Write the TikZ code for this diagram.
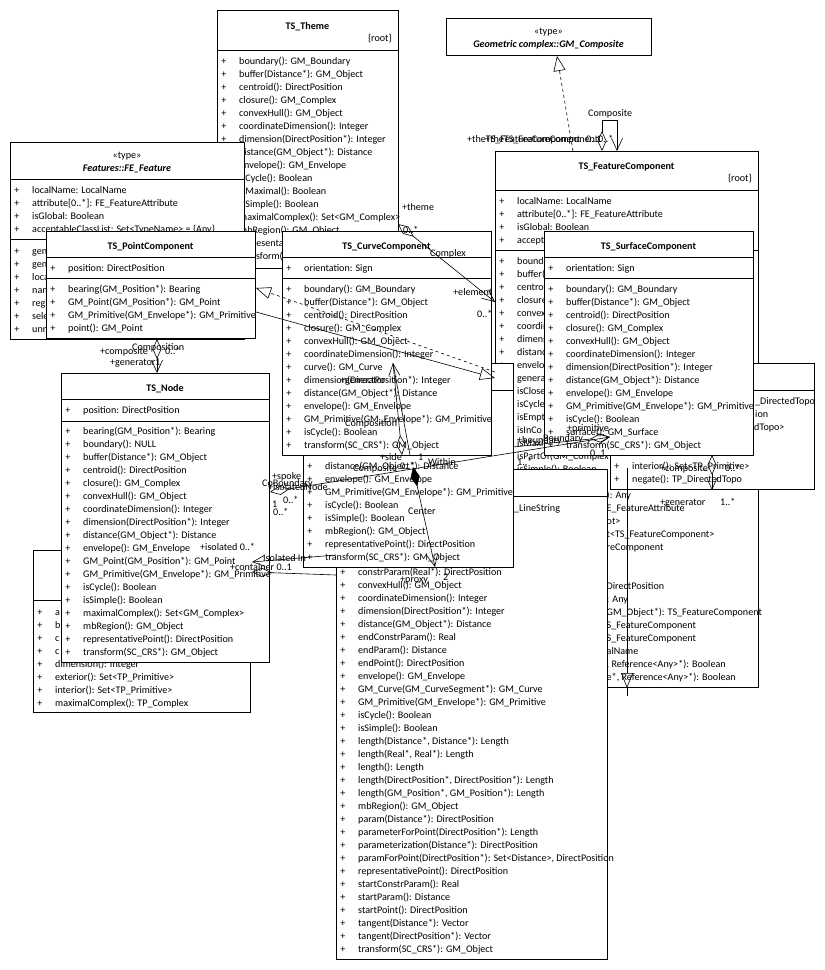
\documentclass[tikz,border=0pt]{standalone}
\usepackage{fontspec}
\setmainfont{Carlito}
\usetikzlibrary{arrows.meta}
\newcommand\rowfont{\fontsize{10.1}{12}\selectfont}
\tikzset{
  umlbox/.style={draw, fill=white, line width=0.75pt, inner sep=0pt, outer sep=0pt, anchor=north west},
  rowtxt/.style={inner sep=0pt, anchor=base west, font=\rowfont},
  plusmark/.style={inner sep=0pt, anchor=base, font=\rowfont},
  ttl/.style={inner sep=0pt, anchor=base, font=\rowfont\bfseries},
  lbl/.style={inner sep=0pt, anchor=base west, font=\rowfont},
  sep/.style={line width=0.75pt},
  conn/.style={line width=0.6pt},
  gentip/.tip={Triangle[open, length=15pt, width=12pt]},
  aggtip/.tip={Diamond[open, length=20pt, width=9pt]},
  comptip/.tip={Diamond[length=20pt, width=9pt]},
  navtip/.tip={Straight Barb[length=12pt, width=11pt]},
}
% class box: name, left, top, right, bottom
\newcommand\classbox[5]{%
  \node[umlbox, minimum width=#4-#2, minimum height=#5-#3] (#1) at (#2,#3) {};}
% compartment separator: left, right, y
\newcommand\hsep[3]{\draw[sep] (#1,#3) -- (#2,#3);}
% list of members: prefix, box left, centre of first row, rows
\newcommand\classrows[4]{%
  \foreach \rowtext [count=\k from 0] in {#4}{%
    \node[plusmark] (#1p\k) at (#2+7,#3+13*\k+3.3) {+};
    \node[rowtxt] (#1r\k) at (#2+22,#3+13*\k+3.3) {\rowtext};
  }}
\begin{document}
\begin{tikzpicture}[x=1pt,y=-1pt]
\useasboundingbox[fill=white] (0,0) rectangle (825,970);

% ---------- GM_Composite ----------
\classbox{gmcomp}{446}{18}{651}{55}
\node[ttl, font=\rowfont] (gmcomp-st) at (548.5,34) {«type»};
\node[ttl, font=\rowfont\bfseries\itshape] (gmcomp-nm) at (548.5,47.3) {Geometric complex::GM\_Composite};

% ---------- TS_Theme ----------
\classbox{theme}{217}{10}{398}{268}
\node[ttl] (theme-nm) at (307.5,29.5) {TS\_Theme};
\node[inner sep=0pt, anchor=base east, font=\rowfont] (theme-root) at (392,41.3) {\{root\}};
\hsep{217}{398}{50}
\classrows{theme}{217}{61}{boundary(): GM\_Boundary, buffer(Distance*): GM\_Object, centroid(): DirectPosition, closure(): GM\_Complex, convexHull(): GM\_Object, coordinateDimension(): Integer, dimension(DirectPosition*): Integer, distance(GM\_Object*): Distance, envelope(): GM\_Envelope, isCycle(): Boolean, isMaximal(): Boolean, isSimple(): Boolean, maximalComplex(): Set<GM\_Complex>, mbRegion(): GM\_Object, representativePoint(): DirectPosition, transform(SC\_CRS*): GM\_Object}

% ---------- FE_Feature ----------
\classbox{fefeat}{10}{142}{244}{339}
\node[ttl, font=\rowfont] (fefeat-st) at (127,158.5) {«type»};
\node[ttl, font=\rowfont\bfseries\itshape] (fefeat-nm) at (127,171.5) {Features::FE\_Feature};
\hsep{10}{244}{179}
\classrows{fefa}{10}{190}{localName: LocalName, attribute[0..*]: FE\_FeatureAttribute, isGlobal: Boolean, acceptableClassList: Set<TypeName> = \{Any\}}
\hsep{10}{244}{239.3}
\classrows{fefo}{10}{250.7}{gen, gen, loca, nam, regi, sele, unr}

% ---------- TS_PointComponent ----------
\classbox{pointc}{46}{231}{255}{338}
\node[ttl] (pointc-nm) at (150.5,249.3) {TS\_PointComponent};
\hsep{46}{255}{257}
\classrows{pointa}{46}{268.3}{position: DirectPosition}
\hsep{46}{255}{278.3}
\classrows{pointo}{46}{289}{bearing(GM\_Position*): Bearing, GM\_Point(GM\_Position*): GM\_Point, GM\_Primitive(GM\_Envelope*): GM\_Primitive, point(): GM\_Point}

% ---------- TS_FeatureComponent ----------
\classbox{featc}{495}{151}{758}{687}
\node[ttl] (featc-nm) at (626.5,169.3) {TS\_FeatureComponent};
\node[inner sep=0pt, anchor=base east, font=\rowfont] (featc-root) at (752,181.3) {\{root\}};
\hsep{495}{758}{190}
\classrows{feata}{495}{201}{localName: LocalName, attribute[0..*]: FE\_FeatureAttribute, isGlobal: Boolean, acceptableClassList: Set<TypeName> = \{Any\}}
\hsep{495}{758}{250}
\classrows{feato}{495}{261}{bounda, buffer(, centroi, closure, convex, coordin, dimens, distanc, envelo, genera, isClose, isCycle, isEmpt, isInCo, isMaxi, isPartOf(GM\_Complex, isSimple(): Boolean}
\foreach \yy/\frag [count=\k] in {495/{): Any}, 508/E\_FeatureAttribute, 521/ot>, 534/t<TS\_FeatureComponent>, 547/reComponent, 586/DirectPosition, 599/{: Any}, 612/{GM\_Object*): TS\_FeatureComponent}, 625/S\_FeatureComponent, 638/S\_FeatureComponent, 651/alName, 664/{, Reference<Any>*): Boolean}, 677/{e*, Reference<Any>*): Boolean}}{%
  \node[rowtxt] (featf\k) at (606.5,\yy+3.3) {\frag};
}

% ---------- directed topology box (right) ----------
\classbox{dirtopo}{610}{363}{814}{489}
\hsep{610}{814}{390}
\node[rowtxt] (dirtopo-f1) at (755,404.3) {\_DirectedTopo};
\node[rowtxt] (dirtopo-f2) at (755,417.3) {ion};
\node[rowtxt] (dirtopo-f3) at (754,430.3) {dTopo>};
\classrows{dirtopo}{610}{466}{interior(): Set<TP\_Primitive>, negate(): TP\_DirectedTopo}

% ---------- TS_SurfaceComponent ----------
\classbox{surfc}{544}{231}{753}{455}
\node[ttl] (surfc-nm) at (648.5,249.3) {TS\_SurfaceComponent};
\hsep{544}{753}{257}
\classrows{surfa}{544}{268}{orientation: Sign}
\hsep{544}{753}{278}
\classrows{surfo}{544}{289}{boundary(): GM\_Boundary, buffer(Distance*): GM\_Object, centroid(): DirectPosition, closure(): GM\_Complex, convexHull(): GM\_Object, coordinateDimension(): Integer, dimension(DirectPosition*): Integer, distance(GM\_Object*): Distance, envelope(): GM\_Envelope, GM\_Primitive(GM\_Envelope*): GM\_Primitive, isCycle(): Boolean, surface(): GM\_Surface, transform(SC\_CRS*): GM\_Object}

% ---------- line string box ----------
\classbox{lstr}{336}{469}{607}{959}
\hsep{336}{607}{496}
\node[rowtxt] (lstr-f1) at (514,511.3) {\_LineString};
\classrows{lstr}{336}{572}{constrParam(Real*): DirectPosition, convexHull(): GM\_Object, coordinateDimension(): Integer, dimension(DirectPosition*): Integer, distance(GM\_Object*): Distance, endConstrParam(): Real, endParam(): Distance, endPoint(): DirectPosition, envelope(): GM\_Envelope, GM\_Curve(GM\_CurveSegment*): GM\_Curve, GM\_Primitive(GM\_Envelope*): GM\_Primitive, isCycle(): Boolean, isSimple(): Boolean, {length(Distance*, Distance*): Length}, {length(Real*, Real*): Length}, length(): Length, {length(DirectPosition*, DirectPosition*): Length}, {length(GM\_Position*, GM\_Position*): Length}, mbRegion(): GM\_Object, param(Distance*): DirectPosition, parameterForPoint(DirectPosition*): Length, parameterization(Distance*): DirectPosition, {paramForPoint(DirectPosition*): Set<Distance>, DirectPosition}, representativePoint(): DirectPosition, startConstrParam(): Real, startParam(): Distance, startPoint(): DirectPosition, tangent(Distance*): Vector, tangent(DirectPosition*): Vector, transform(SC\_CRS*): GM\_Object}

% ---------- middle box ----------
\classbox{edgec}{303}{363}{513}{567}
\hsep{303}{513}{390}
\classrows{edgec}{303}{466}{distance(GM\_Object*): Distance, envelope(): GM\_Envelope, GM\_Primitive(GM\_Envelope*): GM\_Primitive, isCycle(): Boolean, isSimple(): Boolean, mbRegion(): GM\_Object, representativePoint(): DirectPosition, transform(SC\_CRS*): GM\_Object}

% ---------- TS_CurveComponent ----------
\classbox{curvec}{282}{231}{491}{455}
\node[ttl] (curvec-nm) at (386.5,249.3) {TS\_CurveComponent};
\hsep{282}{491}{257}
\classrows{curva}{282}{268}{orientation: Sign}
\hsep{282}{491}{278}
\classrows{curvo}{282}{289}{boundary(): GM\_Boundary, buffer(Distance*): GM\_Object, centroid(): DirectPosition, closure(): GM\_Complex, convexHull(): GM\_Object, coordinateDimension(): Integer, curve(): GM\_Curve, dimension(DirectPosition*): Integer, distance(GM\_Object*): Distance, envelope(): GM\_Envelope, GM\_Primitive(GM\_Envelope*): GM\_Primitive, isCycle(): Boolean, transform(SC\_CRS*): GM\_Object}

% ---------- bottom-left box ----------
\classbox{facec}{33}{550}{250}{712}
\hsep{33}{250}{600}
\classrows{facec}{33}{611.7}{a, b, c, c, dimension(): Integer, exterior(): Set<TP\_Primitive>, interior(): Set<TP\_Primitive>, maximalComplex(): TP\_Complex}

% ---------- TS_Node ----------
\classbox{node}{61}{373}{269}{662}
\node[ttl] (node-nm) at (165,391.3) {TS\_Node};
\hsep{61}{269}{399}
\classrows{nodea}{61}{410}{position: DirectPosition}
\hsep{61}{269}{421}
\classrows{nodeo}{61}{431}{bearing(GM\_Position*): Bearing, boundary(): NULL, buffer(Distance*): GM\_Object, centroid(): DirectPosition, closure(): GM\_Complex, convexHull(): GM\_Object, coordinateDimension(): Integer, dimension(DirectPosition*): Integer, distance(GM\_Object*): Distance, envelope(): GM\_Envelope, GM\_Point(GM\_Position*): GM\_Point, GM\_Primitive(GM\_Envelope*): GM\_Primitive, isCycle(): Boolean, isSimple(): Boolean, maximalComplex(): Set<GM\_Complex>, mbRegion(): GM\_Object, representativePoint(): DirectPosition, transform(SC\_CRS*): GM\_Object}

% ---------- connectors ----------
% realization of GM_Composite
\coordinate (r1a) at (573,151); \coordinate (r1b) at (557,56);
\draw[conn, dashed, -gentip] (r1a) -- (r1b);
% self association on the feature component
\coordinate (s1) at (602,151); \coordinate (s2) at (602,120); \coordinate (s3) at (617,120); \coordinate (s4) at (617,151);
\draw[conn, aggtip-navtip] (s1) -- (s2) -- (s3) -- (s4);
% theme / feature component
\coordinate (cx1) at (398,224); \coordinate (cx2) at (495,302);
\draw[conn, aggtip-navtip] (cx1) -- (cx2);
% point component generalization and realization
\coordinate (g1a) at (256,312); \coordinate (g1b) at (495,378);
\draw[conn, -gentip] (g1a) -- (g1b);
\coordinate (g2a) at (495,372); \coordinate (g2b) at (256,288);
\draw[conn, dashed, -gentip] (g2a) -- (g2b);
% point component / node
\coordinate (pn1) at (157,339); \coordinate (pn2) at (157,373);
\draw[conn, aggtip-navtip] (pn1) -- (pn2);
% curve component / edge
\coordinate (ce1) at (402,455); \coordinate (ce2) at (393,363);
\draw[conn, aggtip-navtip] (ce1) -- (ce2);
\coordinate (ce3) at (410,455);
\draw[conn] (ce3) -- (ce2);
% centre composition
\coordinate (ct1) at (413,467); \coordinate (ct2) at (435,567);
\draw[conn, comptip-navtip] (ct1) -- (ct2);
% node / boundary lines
\coordinate (bd1) at (270,492); \coordinate (bd2) at (610,437);
\draw[conn, aggtip-navtip] (bd1) -- (bd2);
\coordinate (bd3) at (513,447);
\draw[conn, -aggtip] (bd3) -- (bd2);
% isolated in
\coordinate (is1) at (252,562); \coordinate (is2) at (336,555);
\draw[conn, navtip-] (is1) -- (is2);
\coordinate (is3) at (252,572); \coordinate (is4) at (336,575);
\draw[conn, aggtip-] (is3) -- (is4);
% surface component / face
\coordinate (sf1) at (712,455); \coordinate (sf2) at (712,490);
\draw[conn, aggtip-navtip] (sf1) -- (sf2);
% vertical generalization through the feature component
\coordinate (vg1) at (627,468); \coordinate (vg2) at (627,688); \coordinate (vg3) at (627,696);
\draw[conn, -gentip] (vg1) -- (vg2);
\draw[conn] (vg2) -- (vg3);

% ---------- connector labels ----------
\node[lbl] (l-theme) at (402,210) {+theme};
\node[lbl] (l-thm) at (403,233) {0..*};
\node[lbl] (l-complex) at (430,256) {Complex};
\node[lbl] (l-element) at (453,295) {+element};
\node[lbl] (l-elm) at (477,317) {0..*};
\node[lbl] (l-composite) at (588,116) {Composite};
\node[lbl] (l-thefc1) at (467,142) {+theTS\_FeatureComponent};
\node[lbl] (l-thefc2) at (485,142) {+theTS\_FeatureComponent};
\node[lbl] (l-thefm1) at (586,142) {0..1};
\node[lbl] (l-thefm2) at (598,142) {0..*};
\node[lbl] (l-pcomp) at (100,354) {+composite};
\node[lbl] (l-pcompn) at (132,350) {Composition};
\node[lbl] (l-pcm) at (165,354) {0..*};
\node[lbl] (l-pgen) at (110,365) {+generator};
\node[lbl] (l-pgm) at (155,365) {1};
\node[lbl] (l-cgen) at (340,383) {+generator};
\node[lbl] (l-ccompn) at (345,426) {Composition};
\node[lbl] (l-side) at (380,460) {+side};
\node[lbl] (l-sidem) at (418,460) {1};
\node[lbl] (l-within) at (428,465) {Within};
\node[lbl] (l-ccomp) at (353,471) {Composite};
\node[lbl] (l-ccm) at (400,469) {0..*};
\node[lbl] (l-center) at (408,514) {Center};
\node[lbl] (l-proxy) at (400,582) {+proxy};
\node[lbl] (l-proxym) at (443,580) {2};
\node[lbl] (l-spoke) at (272,479) {+spoke};
\node[lbl] (l-cob) at (262,486) {CoBoundary};
\node[lbl] (l-isonode) at (268,490) {+isolatedNode};
\node[lbl] (l-spm) at (283,503) {0..*};
\node[lbl] (l-one) at (272,507) {1};
\node[lbl] (l-spm2) at (273,515) {0..*};
\node[lbl] (l-iso) at (200,550) {+isolated 0..*};
\node[lbl] (l-isoin) at (263,561) {Isolated In};
\node[lbl] (l-cont) at (230,570) {+container 0..1};
\node[lbl] (l-bnd) at (517,443) {+boundary};
\node[lbl] (l-bndn) at (543,441) {Boundary};
\node[lbl] (l-prim) at (567,431) {+primitive};
\node[lbl] (l-primm) at (590,456) {0..1};
\node[lbl] (l-bndm) at (517,465) {1..*};
\node[lbl] (l-sfcomp) at (660,471) {+composite};
\node[lbl] (l-sfcm) at (725,471) {0..*};
\node[lbl] (l-sfgen) at (660,505) {+generator};
\node[lbl] (l-sfgm) at (720,505) {1..*};
\end{tikzpicture}
\end{document}
